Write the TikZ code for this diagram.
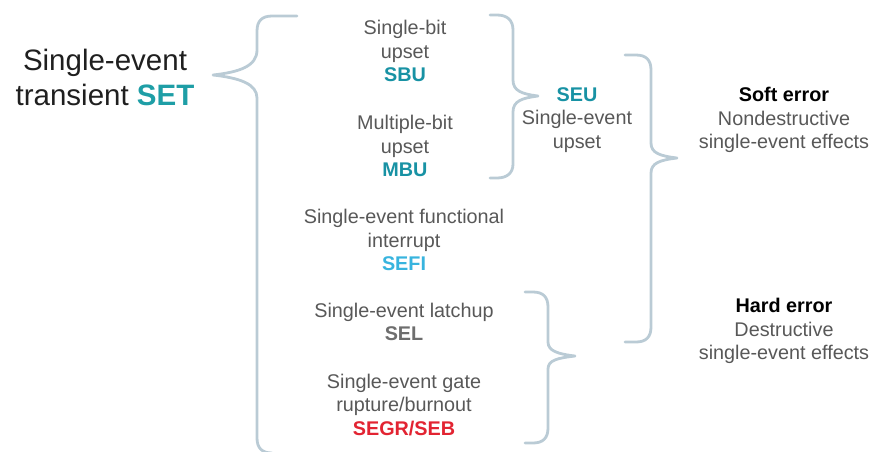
\documentclass[tikz,border=0pt]{standalone}
\usepackage{fontspec}
\setmainfont{Liberation Sans}
\definecolor{bracecol}{RGB}{186,203,213}
\definecolor{txtgrey}{RGB}{88,88,88}
\definecolor{tealc}{RGB}{24,146,164}
\definecolor{setteal}{RGB}{30,158,166}
\definecolor{skyc}{RGB}{56,180,222}
\definecolor{redc}{RGB}{226,36,50}
\definecolor{selgrey}{RGB}{110,110,110}
\begin{document}
\begin{tikzpicture}[x=1pt,y=-1pt,
  bracestroke/.style={draw=bracecol,line width=2.8pt,line cap=round,line join=round},
  lbl/.style={align=center,text=txtgrey,inner sep=0pt,
    font=\fontsize{19.8}{23.3}\selectfont},
  big/.style={align=center,text=black!88,inner sep=0pt,
    font=\fontsize{29.5}{35}\selectfont}]
\useasboundingbox (0,0) rectangle (870,451);
\clip (0,0) rectangle (870,451);
% texts
\node[big] (set) at (105,77) {Single-event\\transient \textcolor{setteal}{\textbf{SET}}};
\node[lbl] (sbu) at (405,51) {Single-bit\\upset\\\textcolor{tealc}{\textbf{SBU}}};
\node[lbl] (mbu) at (405,146) {Multiple-bit\\upset\\\textcolor{tealc}{\textbf{MBU}}};
\node[lbl] (sefi) at (404,240) {Single-event functional\\interrupt\\\textcolor{skyc}{\textbf{SEFI}}};
\node[lbl] (sel) at (404,322) {Single-event latchup\\\textcolor{selgrey}{\textbf{SEL}}};
\node[lbl] (segr) at (404,405) {Single-event gate\\rupture/burnout\\\textcolor{redc}{\textbf{SEGR/SEB}}};
\node[lbl] (seu) at (577,120) {\textcolor{tealc}{\textbf{SEU}}\\Single-event\\upset};
\node[lbl] (soft) at (784,120) {\textcolor{black}{\textbf{Soft error}}\\Nondestructive\\single-event effects};
\node[lbl] (hard) at (784,331) {\textcolor{black}{\textbf{Hard error}}\\Destructive\\single-event effects};
% braces
\draw[bracestroke] (297,16) -- (272,16) .. controls (262,16) and (257,21) .. (257,31)
  -- (257,50) .. controls (257,66) and (240,72) .. (213,75)
  .. controls (240,78) and (257,84) .. (257,98)
  -- (257,438) .. controls (257,448) and (262,453) .. (272,453);
\draw[bracestroke] (490,15) -- (497,15) .. controls (507,15) and (513,20) .. (513,30)
  -- (513,80) .. controls (513,91) and (522,94) .. (538,96)
  .. controls (522,98) and (513,101) .. (513,112)
  -- (513,164) .. controls (513,173) and (507,178) .. (497,178) -- (490,178);
\draw[bracestroke] (625,55) -- (636,55) .. controls (646,55) and (651,60) .. (651,70)
  -- (651,143) .. controls (651,153) and (660,156) .. (677,158)
  .. controls (660,160) and (651,163) .. (651,173)
  -- (651,327) .. controls (651,337) and (646,342) .. (636,342) -- (625,342);
\draw[bracestroke] (525,292) -- (533,292) .. controls (543,292) and (548,297) .. (548,307)
  -- (548,342) .. controls (548,351) and (558,354) .. (575,356)
  .. controls (558,358) and (548,360) .. (548,369)
  -- (548,428) .. controls (548,438) and (543,443) .. (533,443) -- (525,443);
\end{tikzpicture}
\end{document}
